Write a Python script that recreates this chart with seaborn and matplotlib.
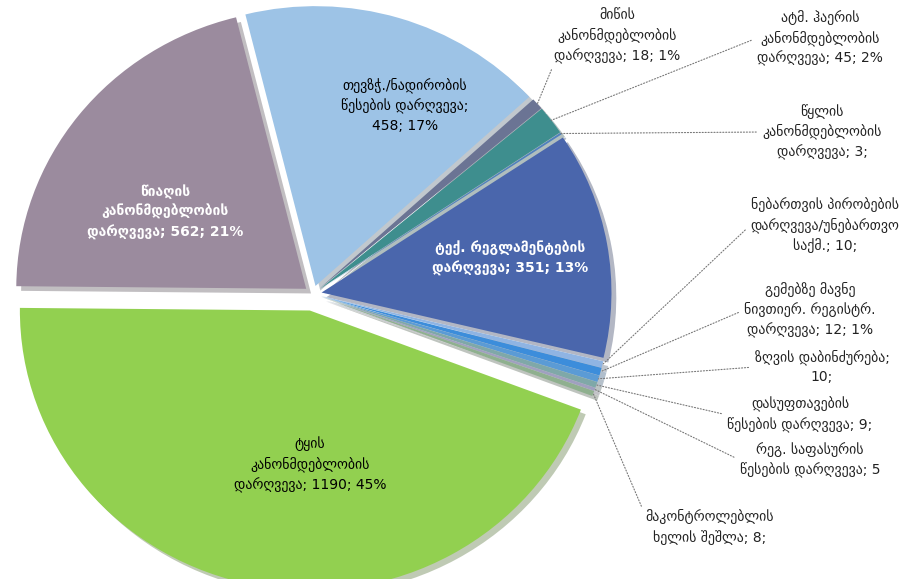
import numpy as np
import matplotlib
matplotlib.use('Agg')
import matplotlib.pyplot as plt
import seaborn as sns

sns.set_style('white')
plt.rcParams['font.family'] = ['DejaVu Sans']

# data, clockwise from the top
labels = [
    'თევზჭ./ნადირობის\nწესების დარღვევა;\n458; 17%',
    'მიწის\nკანონმდებლობის\nდარღვევა; 18; 1%',
    'ატმ. ჰაერის\nკანონმდებლობის\nდარღვევა; 45; 2%',
    'წყლის\nკანონმდებლობის\nდარღვევა; 3;',
    'ტექ. რეგლამენტების\nდარღვევა; 351; 13%',
    'ნებართვის პირობების\nდარღვევა/უნებართვო\nსაქმ.; 10;',
    'გემებზე მავნე\nნივთიერ. რეგისტრ.\nდარღვევა; 12; 1%',
    'ზღვის დაბინძურება;\n10;',
    'დასუფთავების\nწესების დარღვევა; 9;',
    'რეგ. საფასურის\nწესების დარღვევა; 5',
    'მაკონტროლებლის\nხელის შეშლა; 8;',
    'ტყის\nკანონმდებლობის\nდარღვევა; 1190; 45%',
    'წიაღის\nკანონმდებლობის\nდარღვევა; 562; 21%',
]
values = [458, 18, 45, 3, 351, 10, 12, 10, 9, 5, 8, 1190, 562]
colors = ['#9DC3E6', '#6B7494', '#3E8E8E', '#4F81BD', '#4A66AC',
          '#8FB4E3', '#3C8DDB', '#5B9BD5', '#7FA8A8', '#A0A0C0',
          '#8FB08F', '#92D050', '#9B8B9E']
explode = [0.03] * 11 + [0.06, 0.03]

# label placement (image pixels, text centre) -- layout only
inside = {0: (405, 105, 'black'), 4: (510, 258, 'white'),
          11: (310, 465, 'black'), 12: (165, 212, 'white')}
outside = {1: (617, 36), 2: (820, 38), 3: (822, 132), 5: (825, 225),
           6: (810, 310), 7: (822, 367), 8: (800, 415), 9: (810, 460),
           10: (710, 527)}
relpos = {1: (0, 0), 10: (0, 0.8)}

W, H = 916, 579
cx, cy, aw, ah = 313, 294, 603, 582
fig = plt.figure(figsize=(W / 100, H / 100), dpi=100)
ax = fig.add_axes([(cx - aw / 2) / W, (H - cy - ah / 2) / H, aw / W, ah / H])

wedges, _ = ax.pie(values, colors=colors, startangle=104, counterclock=False,
                   explode=explode,
                   shadow={'ox': 0.012, 'oy': -0.012, 'shade': 0.5, 'alpha': 0.35},
                   wedgeprops={'linewidth': 0})
ax.set_xlim(-1.04, 1.04)
ax.set_ylim(-1.04, 1.04)
ax.set_aspect('auto')
ax.axis('off')

for i, (x, y, c) in inside.items():
    fig.text(x / W, 1 - y / H, labels[i], ha='center', va='center', color=c,
             fontsize=10, fontweight='bold' if c == 'white' else 'normal',
             linespacing=1.45)

for i, (x, y) in outside.items():
    w = wedges[i]
    ang = np.deg2rad((w.theta1 + w.theta2) / 2)
    wx, wy = w.center
    px, py = wx + w.r * np.cos(ang), wy + w.r * np.sin(ang)
    ax.annotate(labels[i], xy=(px, py), xycoords='data',
                xytext=(x, H - y), textcoords='figure pixels',
                ha='center', va='center', fontsize=10, linespacing=1.45,
                color='#222222', annotation_clip=False,
                arrowprops=dict(arrowstyle='-', color='#777777', lw=0.8,
                                linestyle=':', relpos=relpos.get(i, (0, 0.5)),
                                shrinkA=2, shrinkB=0))

fig.savefig('out.png', dpi=100, facecolor='white')
